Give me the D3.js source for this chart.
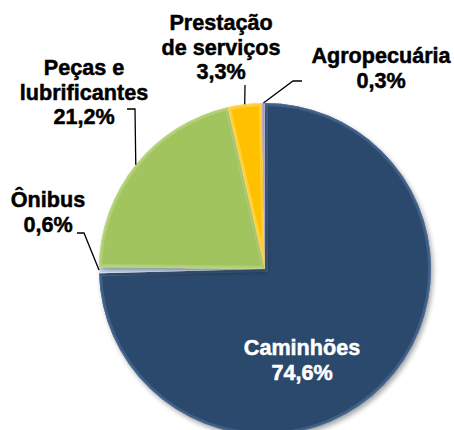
<!DOCTYPE html>
<html>
<head>
<meta charset="utf-8">
<script src="https://cdn.jsdelivr.net/npm/d3@7"></script>
<style>
  html, body { margin: 0; padding: 0; background: #fff; }
  svg { display: block; }
  text { font-family: "Liberation Sans", Arial, sans-serif; font-weight: bold; font-size: 21.6px; }
</style>
</head>
<body>
<svg class="chart"></svg>
<script>
const width = 454,
      height = 430

// data
const categories = ["Caminhões", "Ônibus", "Peças e lubrificantes", "Prestação de serviços", "Agropecuária"]
const values = [74.6, 0.6, 21.2, 3.3, 0.3]
const labelLines = [
  ["Caminhões", "74,6%"],
  ["Ônibus", "0,6%"],
  ["Peças e", "lubrificantes", "21,2%"],
  ["Prestação", "de serviços", "3,3%"],
  ["Agropecuária", "0,3%"]
]

const colors = ["#2c4a6d", "#b9d1ea", "#a2c45f", "#ffc000", "#9387b3"]
const edgeColors = ["#5a7aa3", "#e2eefa", "#c6de92", "#ffe27a", "#c1b8d8"]

const cx = 265, cy = 269, radius = 166

// label layout: x, first baseline, leader elbow points (label side)
const labelLayout = [
  { x: 302, y: 355, inside: true },
  { x: 48, y: 207, leader: [[77, 233], [84, 233]] },
  { x: 84, y: 75, leader: [[127, 109], [135, 109]] },
  { x: 221, y: 30, leader: [[245, 85]] },
  { x: 381, y: 63, leader: [[302, 81], [293, 81]] }
]
const lineStep = 24.5

const chart = d3.select(".chart")
    .attr("width", width)
    .attr("height", height)

const defs = chart.append("defs")
defs.append("filter")
    .attr("id", "shadow")
    .attr("x", "-10%").attr("y", "-10%")
    .attr("width", "130%").attr("height", "130%")
  .append("feDropShadow")
    .attr("dx", 2).attr("dy", 3)
    .attr("stdDeviation", 2.5)
    .attr("flood-color", "#000")
    .attr("flood-opacity", 0.35)

const pie = d3.pie().sort(null).value(d => d)
const arcs = pie(values)
const arc = d3.arc().innerRadius(0).outerRadius(radius)

const g = chart.append("g")
    .attr("transform", `translate(${cx},${cy})`)

arcs.forEach((d, i) => {
  defs.append("clipPath")
      .attr("id", "clip" + i)
    .append("path")
      .attr("d", arc(d))
})

const slices = g.selectAll(".slice")
  .data(arcs)
  .enter()
  .append("g")
    .attr("class", "slice")

slices.append("path")
    .attr("d", arc)
    .attr("fill", (d, i) => colors[i])
    .attr("filter", "url(#shadow)")

// bevel: lighter inner edge
slices.append("path")
    .attr("d", arc)
    .attr("fill", "none")
    .attr("stroke", (d, i) => edgeColors[i])
    .attr("stroke-width", 6)
    .attr("stroke-opacity", 0.45)
    .attr("clip-path", (d, i) => `url(#clip${i})`)

slices.append("path")
    .attr("d", arc)
    .attr("fill", "none")
    .attr("stroke", (d, i) => edgeColors[i])
    .attr("stroke-width", 1.6)
    .attr("stroke-opacity", 0.6)
    .attr("clip-path", (d, i) => `url(#clip${i})`)

// leader lines
arcs.forEach((d, i) => {
  const lay = labelLayout[i]
  if (!lay.leader) return
  const mid = (d.startAngle + d.endAngle) / 2
  const end = [cx + radius * Math.sin(mid), cy - radius * Math.cos(mid)]
  chart.append("path")
      .attr("d", d3.line()(lay.leader.concat([end])))
      .attr("fill", "none")
      .attr("stroke", "#000")
      .attr("stroke-width", 1.3)
})

// labels
labelLines.forEach((lines, i) => {
  const lay = labelLayout[i]
  const c = lay.inside ? "#fff" : "#000"
  const t = chart.append("text")
      .attr("text-anchor", "middle")
      .attr("fill", c)
      .attr("stroke", c)
      .attr("stroke-width", 0.5)
  lines.forEach((s, j) => {
    t.append("tspan")
        .attr("x", lay.x)
        .attr("y", lay.y + j * lineStep)
        .text(s)
  })
})
</script>
</body>
</html>
